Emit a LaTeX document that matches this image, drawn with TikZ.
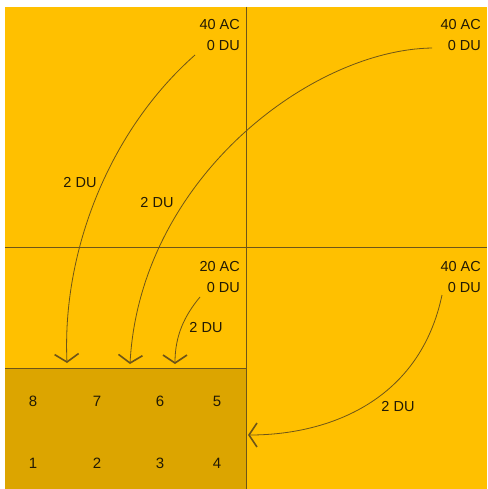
\documentclass[tikz,border=0pt]{standalone}
\usepackage{fontspec}
\setmainfont{Liberation Sans}
\usetikzlibrary{arrows.meta}
\definecolor{bgyellow}{HTML}{FFC000}
\definecolor{boxdark}{HTML}{DCA500}
\definecolor{lineclr}{HTML}{6E5518}
\definecolor{txtclr}{HTML}{221A05}
\tikzset{
  lbl/.style={inner sep=0pt, text=txtclr, font=\fontsize{14.5}{16}\selectfont, anchor=base east},
  dulbl/.style={inner sep=0pt, text=txtclr, font=\fontsize{14.5}{16}\selectfont},
  digit/.style={inner sep=0pt, text=txtclr, font=\fontsize{15}{17}\selectfont},
  divider/.style={draw=lineclr, line width=0.9pt},
  flow/.style={draw=lineclr, line width=0.8pt, -{Straight Barb[length=8pt,width=24pt,line width=1.6pt]}}
}
\begin{document}
\begin{tikzpicture}[x=1pt,y=-1pt]
\useasboundingbox (0,0) rectangle (487,489);
\fill[white] (0,0) rectangle (487,489);
\fill[bgyellow] (5,7) rectangle (487,489);
\fill[boxdark] (5,368) rectangle (246,489);
\draw[divider] (246,7) -- (246,489);
\draw[divider] (5,247) -- (487,247);
\draw[divider] (5,368) -- (246,368);

% quadrant labels
\node[lbl] (acTL) at (240,30) {40 AC};
\node[lbl] (duTL) at (240,51) {0 DU};
\node[lbl] (acTR) at (481,30) {40 AC};
\node[lbl] (duTR) at (481,51) {0 DU};
\node[lbl] (acBL) at (240,271) {20 AC};
\node[lbl] (duBL) at (240,292) {0 DU};
\node[lbl] (acBR) at (481,271) {40 AC};
\node[lbl] (duBR) at (481,292) {0 DU};

% digits
\node[digit] (d8) at (33,401) {8};
\node[digit] (d7) at (97,401) {7};
\node[digit] (d6) at (160,401) {6};
\node[digit] (d5) at (217,401) {5};
\node[digit] (d1) at (33,463) {1};
\node[digit] (d2) at (97,463) {2};
\node[digit] (d3) at (160,463) {3};
\node[digit] (d4) at (217,463) {4};

% arrow endpoints
\coordinate (s1) at (195,55);
\coordinate (e1) at (67,363);
\coordinate (s2) at (432,48);
\coordinate (e2) at (130,364);
\coordinate (s3) at (200,297);
\coordinate (e3) at (175,364);
\coordinate (s4) at (442,295);
\coordinate (e4) at (248,435);

\draw[flow] (s1) .. controls (110,130) and (62,250) .. (e1);
\draw[flow] (s2) .. controls (310,50) and (140,180) .. (e2);
\draw[flow] (s3) .. controls (185,315) and (175,335) .. (e3);
\draw[flow] (s4) .. controls (420,400) and (330,435) .. (e4);

% distance labels
\node[dulbl] (l1) at (80,183) {2 DU};
\node[dulbl] (l2) at (157,203) {2 DU};
\node[dulbl] (l3) at (206,328) {2 DU};
\node[dulbl] (l4) at (398,407) {2 DU};
\end{tikzpicture}
\end{document}
